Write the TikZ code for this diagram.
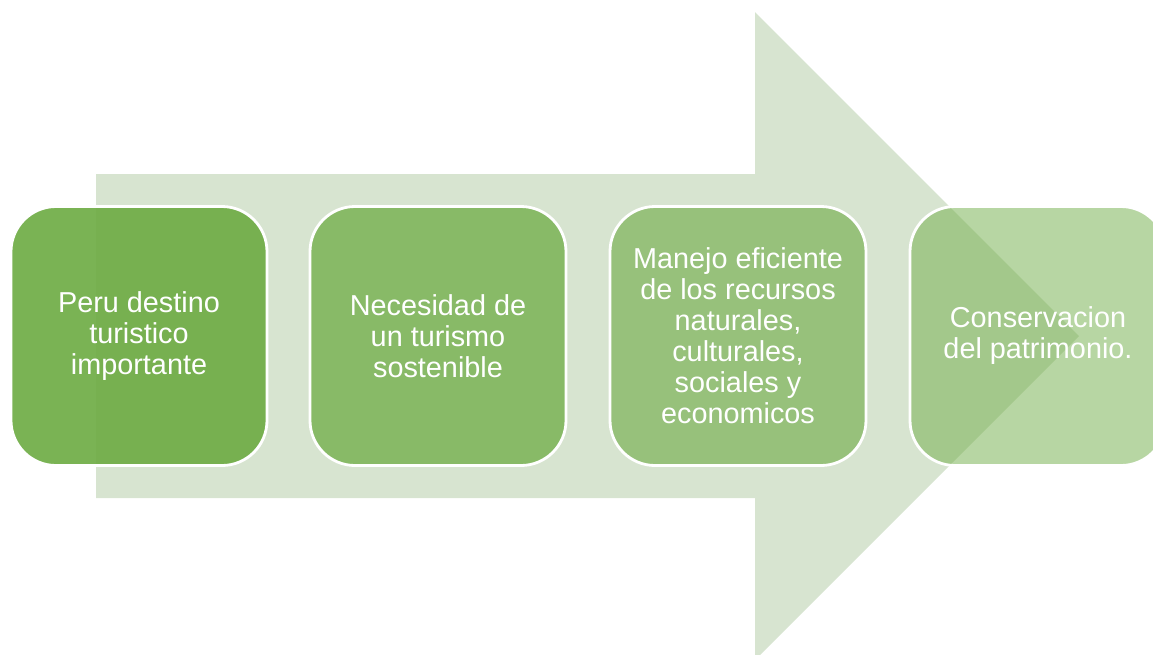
\documentclass[tikz,border=0pt]{standalone}
\usepackage{fontspec}
\setmainfont{Liberation Sans}
\usepackage{xcolor}

\begin{document}
\begin{tikzpicture}[x=0.1mm,y=-0.1mm,
  stepbox/.style={draw=white,line width=0.8pt,rounded corners=4.5mm,
    minimum width=25.6mm,minimum height=25.9mm,inner sep=0pt,
    fill=leaf,align=center,text=white,
    font=\fontsize{8.2}{8.8}\selectfont}]
\definecolor{leaf}{HTML}{70AD47}
\definecolor{sage}{HTML}{D7E4D0}
\useasboundingbox (0,0) rectangle (1153,654);
% big arrow behind the steps
\fill[sage] (96,174) -- (755,174) -- (755,12) -- (1079,336)
  -- (755,660) -- (755,498) -- (96,498) -- cycle;
  \foreach \alf/\pos/\xpos/\txt in {0.93/1/139/{Peru destino\\turistico\\importante},
    0.76/2/438/{Necesidad de\\un turismo\\sostenible},
    0.62/3/738/{Manejo eficiente\\de los recursos\\naturales,\\culturales,\\sociales y\\economicos},
    0.5/4/1038/{Conservacion\\del patrimonio.}}
  {  \node [stepbox,fill opacity=\alf,text opacity=1] (b\pos) at (\xpos,336) {\txt};}
\end{tikzpicture}
\end{document}
